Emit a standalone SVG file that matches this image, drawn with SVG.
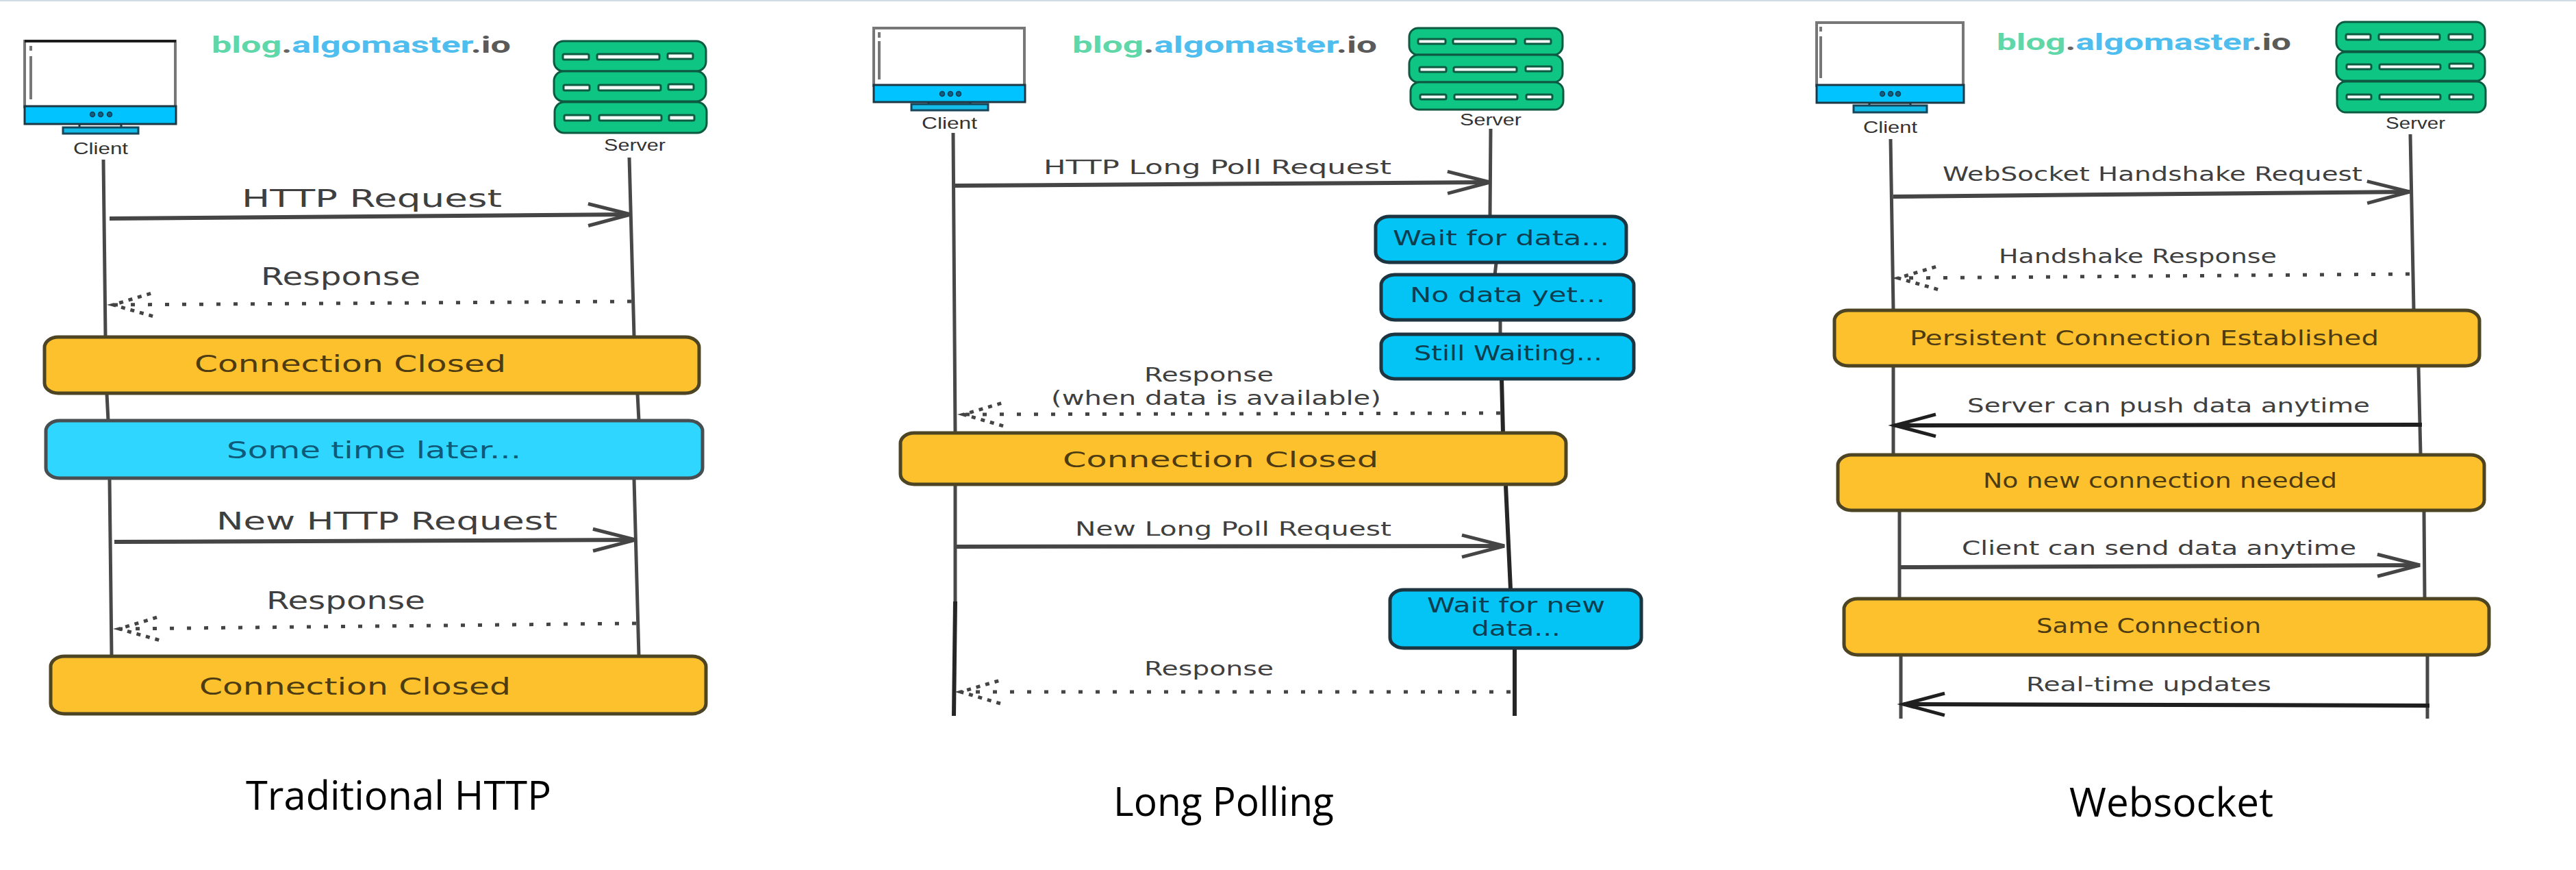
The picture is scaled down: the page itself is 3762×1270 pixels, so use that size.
<svg xmlns="http://www.w3.org/2000/svg" width="3762" height="1270" viewBox="0 0 3762 1270">
<style>
text{font-family:"DejaVu Sans","Liberation Sans",sans-serif}
.ll{stroke:#484848;stroke-width:5;fill:none}
.lk{stroke:#262626;stroke-width:6;fill:none}
.req{stroke:#454545;stroke-width:6;fill:none;marker-end:url(#open)}
.pu{stroke:#1f1f1f;stroke-width:6;fill:none;marker-end:url(#openk)}
.dot{stroke:#444;stroke-width:5;stroke-dasharray:6 19;fill:none;marker-end:url(#dots)}
.lab{fill:#3f3f3f}
.bar{fill:#fdc12d;stroke:#4d4424;stroke-width:5}
.barb{fill:#2fd6ff;stroke:#474f52;stroke-width:5}
.box{fill:#03c4f5;stroke:#1d3540;stroke-width:5}
.bt{fill:#4d3c12}.st{fill:#0f5a78}.bxt{fill:#0d3e50}
.scr{fill:#fff;stroke:#777;stroke-width:4}
.topb{stroke:#1c1c1c;stroke-width:4}
.blue{fill:#00c3ff;stroke:#1d3844;stroke-width:3}
.stand{fill:#fff;stroke:#1d3844;stroke-width:3}
.base{fill:#12bbe8;stroke:#15465a;stroke-width:3}
.side{stroke:#777;stroke-width:4}
.led{fill:#0d5f85;stroke:#123c4f;stroke-width:1.5}
.rack{fill:#0fc583;stroke:#0c5a41;stroke-width:3}
.slot{fill:#f4faf7;stroke:#0c5a41;stroke-width:3}
.cap{font-family:"Liberation Sans",Arial,sans-serif;fill:#333;font-size:24px}
.logo{font-family:Roboto,"Liberation Sans",sans-serif;font-weight:700;font-size:33px}
.ttl{font-family:"Open Sans","Liberation Sans",sans-serif;fill:#000;font-size:58px}
</style>
<defs>
<marker id="open" markerUnits="userSpaceOnUse" markerWidth="80" markerHeight="50" viewBox="-70 -25 80 50" refX="0" refY="0" orient="auto" overflow="visible"><path d="M-62-16 0 0-62 16" fill="none" stroke="#454545" stroke-width="5"/></marker>
<marker id="openk" markerUnits="userSpaceOnUse" markerWidth="80" markerHeight="50" viewBox="-70 -25 80 50" refX="0" refY="0" orient="auto" overflow="visible"><path d="M-60-16 0 0-60 16" fill="none" stroke="#1f1f1f" stroke-width="5"/></marker>
<marker id="dots" markerUnits="userSpaceOnUse" markerWidth="80" markerHeight="50" viewBox="-70 -25 80 50" refX="0" refY="0" orient="auto" overflow="visible"><path d="M-58-17 0 0-58 17" fill="none" stroke="#444" stroke-width="5" stroke-dasharray="6 8"/></marker>
</defs>
<rect width="3762" height="1270" fill="#fff"/>
<rect width="3762" height="2" fill="#cfdbe5"/>

<g id="connectors">
<path class="ll" d="M151 233 154 490M156 575 158 614M160 700 163 958M919 230 926 490M931 575 933 614M926 700 933 958"/>
<path class="req" d="M160 319 921 313"/>
<path class="dot" d="M922 440 165 445"/>
<path class="req" d="M167 791 928 788"/>
<path class="dot" d="M929 910 174 918"/>
<path class="ll" d="M1392 194 1395 632M1395 709 1395 880"/>
<path class="lk" d="M1395 878 1393 1045"/>
<path class="ll" d="M2177 188 2176 316M2185 384 2183 402M2191 467 2191 488"/>
<path class="lk" d="M2193 553 2195 632M2199 709 2206 860M2212 947 2212 1045"/>
<path class="req" d="M1395 271 2176 266"/>
<path class="dot" d="M2191 603 1407 605"/>
<path class="req" d="M1397 798 2197 797"/>
<path class="dot" d="M2206 1010 1403 1010"/>
<path class="ll" d="M2761 203 2765 451M2765 536 2765 663M2774 746 2774 873M2776 958 2776 1049M3520 196 3525 451M3532 536 3535 663M3540 746 3541 873M3545 958 3545 1049"/>
<path class="req" d="M2765 287 3519 280"/>
<path class="dot" d="M3519 400 2772 406"/>
<path class="pu" d="M3537 620 2767 621"/>
<path class="req" d="M2776 828 3534 825"/>
<path class="pu" d="M3548 1030 2780 1028"/>
</g>

<g id="client-1">
<rect class="scr" x="36" y="60" width="220" height="96"/><path class="topb" d="M36 60H257"/>
<path class="side" d="M45 67V74M45 82V145"/>
<rect class="stand" x="116" y="181" width="61" height="6"/><rect class="base" x="92" y="186" width="110" height="9"/>
<rect class="blue" x="36" y="155" width="221" height="26"/>
<circle class="led" cx="135" cy="167" r="3.5"/><circle class="led" cx="147" cy="167" r="3.5"/><circle class="led" cx="160" cy="167" r="3.5"/>
<text class="cap" x="107" y="225" textLength="80" lengthAdjust="spacingAndGlyphs">Client</text>
</g>
<g id="server-1">
<rect class="rack" x="809" y="60" width="222" height="44" rx="14"/><rect class="rack" x="809" y="104" width="222" height="44" rx="14"/><rect class="rack" x="810" y="149" width="222" height="45" rx="14"/>
<rect class="slot" x="822" y="79" width="38" height="8" rx="2"/><rect class="slot" x="872" y="79" width="91" height="8" rx="2"/><rect class="slot" x="975" y="78" width="37" height="8" rx="2"/>
<rect class="slot" x="823" y="124" width="38" height="8" rx="2"/><rect class="slot" x="874" y="124" width="91" height="8" rx="2"/><rect class="slot" x="976" y="123" width="37" height="8" rx="2"/>
<rect class="slot" x="824" y="168" width="38" height="8" rx="2"/><rect class="slot" x="875" y="168" width="91" height="8" rx="2"/><rect class="slot" x="977" y="168" width="37" height="8" rx="2"/>
<text class="cap" x="882" y="220" textLength="90" lengthAdjust="spacingAndGlyphs">Server</text>
</g>
<text id="logo-1" class="logo" x="309" y="77" textLength="437" lengthAdjust="spacingAndGlyphs"><tspan fill="#5fd7a8">blog</tspan><tspan fill="#666">.</tspan><tspan fill="#4fbdee">algomaster</tspan><tspan fill="#5a5a5a">.io</tspan></text>
<text class="lab" x="353" y="302" font-size="35" textLength="380" lengthAdjust="spacingAndGlyphs">HTTP Request</text>
<text class="lab" x="381" y="416" font-size="35" textLength="233" lengthAdjust="spacingAndGlyphs">Response</text>
<g id="closed-1"><rect class="bar" x="65" y="492" width="956" height="82" rx="20" ry="15"/><text class="bt" x="284" y="543" font-size="34" textLength="455" lengthAdjust="spacingAndGlyphs">Connection Closed</text></g>
<g id="later"><rect class="barb" x="67" y="614" width="959" height="84" rx="20" ry="15"/><text class="st" x="331" y="669" font-size="34" textLength="430" lengthAdjust="spacingAndGlyphs">Some time later...</text></g>
<text class="lab" x="316" y="773" font-size="35" textLength="498" lengthAdjust="spacingAndGlyphs">New HTTP Request</text>
<text class="lab" x="389" y="889" font-size="35" textLength="232" lengthAdjust="spacingAndGlyphs">Response</text>
<g id="closed-2"><rect class="bar" x="74" y="958" width="957" height="84" rx="20" ry="15"/><text class="bt" x="291" y="1014" font-size="34" textLength="455" lengthAdjust="spacingAndGlyphs">Connection Closed</text></g>
<text class="ttl" x="359" y="1182" textLength="446" lengthAdjust="spacingAndGlyphs">Traditional HTTP</text>

<g id="client-2">
<rect class="scr" x="1276" y="41" width="220" height="84"/>
<path class="side" d="M1284 47V55M1284 60V116"/>
<rect class="stand" x="1356" y="149" width="61" height="4"/><rect class="base" x="1331" y="152" width="112" height="9"/>
<rect class="blue" x="1276" y="124" width="221" height="25"/>
<circle class="led" cx="1376" cy="137" r="3.5"/><circle class="led" cx="1388" cy="137" r="3.5"/><circle class="led" cx="1400" cy="137" r="3.5"/>
<text class="cap" x="1346" y="188" textLength="81" lengthAdjust="spacingAndGlyphs">Client</text>
</g>
<g id="server-2">
<rect class="rack" x="2058" y="41" width="224" height="39" rx="13"/><rect class="rack" x="2058" y="80" width="224" height="40" rx="13"/><rect class="rack" x="2060" y="120" width="223" height="40" rx="13"/>
<rect class="slot" x="2071" y="57" width="40" height="7" rx="2"/><rect class="slot" x="2122" y="57" width="92" height="7" rx="2"/><rect class="slot" x="2227" y="57" width="38" height="7" rx="2"/>
<rect class="slot" x="2073" y="98" width="39" height="7" rx="2"/><rect class="slot" x="2123" y="98" width="92" height="7" rx="2"/><rect class="slot" x="2228" y="97" width="38" height="7" rx="2"/>
<rect class="slot" x="2074" y="138" width="38" height="7" rx="2"/><rect class="slot" x="2124" y="138" width="92" height="7" rx="2"/><rect class="slot" x="2229" y="138" width="38" height="7" rx="2"/>
<text class="cap" x="2132" y="183" textLength="90" lengthAdjust="spacingAndGlyphs">Server</text>
</g>
<text id="logo-2" class="logo" x="1566" y="77" textLength="445" lengthAdjust="spacingAndGlyphs"><tspan fill="#5fd7a8">blog</tspan><tspan fill="#666">.</tspan><tspan fill="#4fbdee">algomaster</tspan><tspan fill="#5a5a5a">.io</tspan></text>
<text class="lab" x="1524" y="254" font-size="28" textLength="508" lengthAdjust="spacingAndGlyphs">HTTP Long Poll Request</text>
<g id="wait-1"><rect class="box" x="2009" y="316" width="366" height="67" rx="20" ry="15"/><text class="bxt" x="2034" y="358" font-size="30" textLength="316" lengthAdjust="spacingAndGlyphs">Wait for data...</text></g>
<g id="nodata"><rect class="box" x="2017" y="401" width="369" height="66" rx="20" ry="15"/><text class="bxt" x="2059" y="441" font-size="30" textLength="285" lengthAdjust="spacingAndGlyphs">No data yet...</text></g>
<g id="still"><rect class="box" x="2017" y="488" width="369" height="65" rx="20" ry="15"/><text class="bxt" x="2065" y="526" font-size="30" textLength="275" lengthAdjust="spacingAndGlyphs">Still Waiting...</text></g>
<text class="lab" x="1671" y="557" font-size="28" textLength="189" lengthAdjust="spacingAndGlyphs">Response</text>
<text class="lab" x="1535" y="591" font-size="28" textLength="482" lengthAdjust="spacingAndGlyphs">(when data is available)</text>
<g id="closed-3"><rect class="bar" x="1315" y="632" width="972" height="75" rx="20" ry="15"/><text class="bt" x="1552" y="682" font-size="32" textLength="461" lengthAdjust="spacingAndGlyphs">Connection Closed</text></g>
<text class="lab" x="1570" y="782" font-size="28" textLength="462" lengthAdjust="spacingAndGlyphs">New Long Poll Request</text>
<g id="wait-2"><rect class="box" x="2030" y="861" width="367" height="85" rx="20" ry="15"/><text class="bxt" x="2084" y="894" font-size="30" textLength="260" lengthAdjust="spacingAndGlyphs">Wait for new</text><text class="bxt" x="2149" y="928" font-size="30" textLength="130" lengthAdjust="spacingAndGlyphs">data...</text></g>
<text class="lab" x="1671" y="986" font-size="28" textLength="189" lengthAdjust="spacingAndGlyphs">Response</text>
<text class="ttl" x="1626" y="1191" textLength="322" lengthAdjust="spacingAndGlyphs">Long Polling</text>

<g id="client-3">
<rect class="scr" x="2653" y="33" width="214" height="92"/>
<path class="side" d="M2659 39V46M2659 53V114"/>
<rect class="stand" x="2730" y="150" width="60" height="5"/><rect class="base" x="2707" y="154" width="107" height="10"/>
<rect class="blue" x="2653" y="124" width="215" height="26"/>
<circle class="led" cx="2749" cy="137" r="3.5"/><circle class="led" cx="2761" cy="137" r="3.5"/><circle class="led" cx="2772" cy="137" r="3.5"/>
<text class="cap" x="2721" y="194" textLength="79" lengthAdjust="spacingAndGlyphs">Client</text>
</g>
<g id="server-3">
<rect class="rack" x="3412" y="32" width="217" height="43" rx="13"/><rect class="rack" x="3412" y="76" width="217" height="42" rx="13"/><rect class="rack" x="3413" y="119" width="217" height="45" rx="13"/>
<rect class="slot" x="3426" y="50" width="36" height="8" rx="2"/><rect class="slot" x="3474" y="50" width="89" height="8" rx="2"/><rect class="slot" x="3576" y="50" width="35" height="8" rx="2"/>
<rect class="slot" x="3427" y="94" width="36" height="7" rx="2"/><rect class="slot" x="3475" y="94" width="89" height="7" rx="2"/><rect class="slot" x="3577" y="93" width="35" height="7" rx="2"/>
<rect class="slot" x="3427" y="138" width="36" height="7" rx="2"/><rect class="slot" x="3475" y="138" width="89" height="7" rx="2"/><rect class="slot" x="3577" y="138" width="35" height="7" rx="2"/>
<text class="cap" x="3484" y="188" textLength="87" lengthAdjust="spacingAndGlyphs">Server</text>
</g>
<text id="logo-3" class="logo" x="2916" y="73" textLength="430" lengthAdjust="spacingAndGlyphs"><tspan fill="#5fd7a8">blog</tspan><tspan fill="#666">.</tspan><tspan fill="#4fbdee">algomaster</tspan><tspan fill="#5a5a5a">.io</tspan></text>
<text class="lab" x="2837" y="264" font-size="29" textLength="613" lengthAdjust="spacingAndGlyphs">WebSocket Handshake Request</text>
<text class="lab" x="2919" y="384" font-size="29" textLength="406" lengthAdjust="spacingAndGlyphs">Handshake Response</text>
<g id="persistent"><rect class="bar" x="2679" y="453" width="942" height="81" rx="20" ry="15"/><text class="bt" x="2789" y="504" font-size="30" textLength="685" lengthAdjust="spacingAndGlyphs">Persistent Connection Established</text></g>
<text class="lab" x="2873" y="602" font-size="29" textLength="588" lengthAdjust="spacingAndGlyphs">Server can push data anytime</text>
<g id="noconn"><rect class="bar" x="2684" y="664" width="944" height="81" rx="20" ry="15"/><text class="bt" x="2896" y="712" font-size="30" textLength="517" lengthAdjust="spacingAndGlyphs">No new connection needed</text></g>
<text class="lab" x="2865" y="810" font-size="29" textLength="576" lengthAdjust="spacingAndGlyphs">Client can send data anytime</text>
<g id="same"><rect class="bar" x="2693" y="874" width="942" height="82" rx="20" ry="15"/><text class="bt" x="2974" y="924" font-size="30" textLength="328" lengthAdjust="spacingAndGlyphs">Same Connection</text></g>
<text class="lab" x="2959" y="1009" font-size="29" textLength="358" lengthAdjust="spacingAndGlyphs">Real-time updates</text>
<text class="ttl" x="3022" y="1192" textLength="298" lengthAdjust="spacingAndGlyphs">Websocket</text>
</svg>
